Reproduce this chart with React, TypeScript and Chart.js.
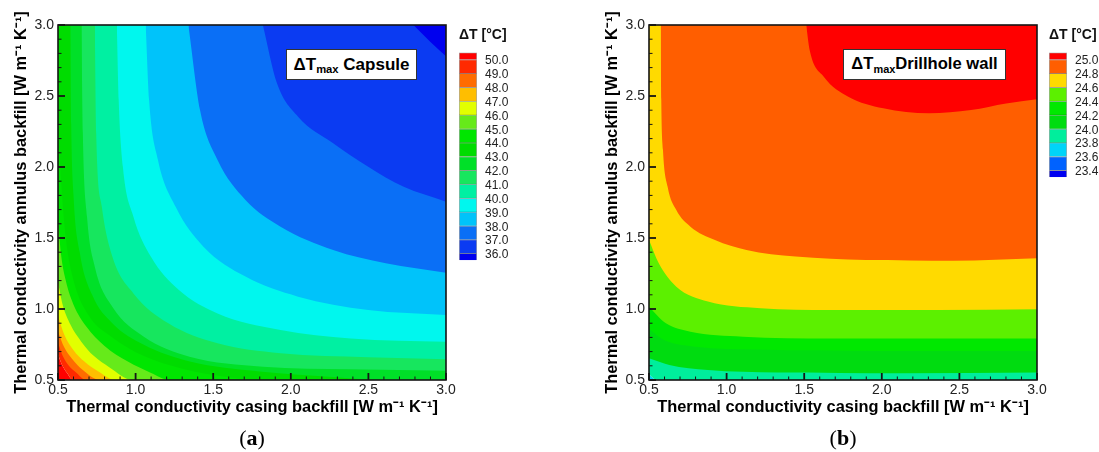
import React, { useEffect, useRef } from 'react';
import { Chart, registerables } from 'chart.js';

Chart.register(...registerables);

type Pt = [number, number];
type Isoline = { level: number; points: Pt[] };

const FONT = "'Liberation Sans', Arial, Helvetica, sans-serif";
Chart.defaults.font.family = FONT;

// ---------- shared axes ----------
const AXIS_MIN = 0.5;
const AXIS_MAX = 3.0;
const AXIS_TICKS = [0.5, 1.0, 1.5, 2.0, 2.5, 3.0];
const MINOR_STEP = 0.1;
const X_TITLE = 'Thermal conductivity casing backfill [W m⁻¹ K⁻¹]';
const Y_TITLE = 'Thermal conductivity annulus backfill [W m⁻¹ K⁻¹]';
const LEGEND_TITLE = 'ΔT [°C]';

// ---------- panel (a): ΔTmax capsule ----------
const CAPSULE_LEVELS = [36, 37, 38, 39, 40, 41, 42, 43, 44, 45, 46, 47, 48, 49, 50];
// band colours, lowest band (<36) first, highest (>50) last
const CAPSULE_COLORS = [
  '#0000EE', '#0B3BF2', '#0A6FF6', '#00C3FA', '#00F7EE', '#00F0A2', '#17E65E', '#00E028',
  '#00DC00', '#00E600', '#66EA1A', '#E2FF00', '#FFBE00', '#FF6C00', '#FF2A00', '#FF0000',
];
const capsuleIso36: Pt[] = [[2.79, 3.0], [2.9, 2.88], [3.0, 2.78]];
const capsuleIso37: Pt[] = [[1.82, 3.0], [1.911, 2.589], [2.047, 2.354], [2.273, 2.167], [2.499, 2.002], [2.724, 1.862], [3.0, 1.756]];
const capsuleIso38: Pt[] = [[1.34, 3.0], [1.415, 2.401], [1.528, 2.049], [1.708, 1.768], [1.934, 1.58], [2.273, 1.416], [2.612, 1.322], [3.0, 1.256]];
const capsuleIso39: Pt[] = [[1.065, 3.0], [1.087, 2.471], [1.144, 2.049], [1.257, 1.721], [1.437, 1.439], [1.708, 1.228], [2.047, 1.087], [2.499, 0.993], [3.0, 0.958]];
const capsuleIso40: Pt[] = [[0.879, 3.0], [0.891, 2.471], [0.918, 2.002], [0.986, 1.65], [1.098, 1.369], [1.279, 1.134], [1.528, 0.969], [1.934, 0.852], [2.386, 0.793], [3.0, 0.77]];
const capsuleIso41: Pt[] = [[0.737, 3.0], [0.746, 2.237], [0.782, 1.721], [0.85, 1.369], [0.986, 1.11], [1.211, 0.899], [1.528, 0.758], [1.934, 0.688], [2.499, 0.66], [3.0, 0.646]];
const capsuleIso42: Pt[] = [[0.651, 3.0], [0.66, 2.237], [0.687, 1.65], [0.737, 1.298], [0.85, 1.016], [1.053, 0.805], [1.347, 0.664], [1.821, 0.594], [2.386, 0.575], [3.0, 0.566]];
const capsuleIso43: Pt[] = [[0.579, 3.0], [0.585, 2.3], [0.6, 1.8], [0.64, 1.4], [0.72, 1.1], [0.85, 0.9], [1.05, 0.75], [1.35, 0.63], [1.8, 0.56], [2.3, 0.52], [2.6, 0.5]];
const capsuleIso44: Pt[] = [[0.5, 2.35], [0.52, 1.9], [0.55, 1.5], [0.6, 1.2], [0.7, 0.95], [0.85, 0.8], [1.05, 0.67], [1.3, 0.58], [1.6, 0.52], [1.8, 0.5]];
const capsuleIso45: Pt[] = [[0.5, 1.63], [0.52, 1.38], [0.55, 1.2], [0.6, 1.03], [0.68, 0.88], [0.8, 0.74], [0.95, 0.63], [1.1, 0.55], [1.22, 0.5]];
const capsuleIso46: Pt[] = [[0.5, 1.19], [0.53, 1.03], [0.58, 0.89], [0.65, 0.77], [0.73, 0.67], [0.83, 0.59], [0.98, 0.5]];
const capsuleIso47: Pt[] = [[0.5, 0.95], [0.54, 0.82], [0.6, 0.71], [0.67, 0.63], [0.76, 0.56], [0.87, 0.5]];
const capsuleIso48: Pt[] = [[0.5, 0.84], [0.54, 0.73], [0.59, 0.65], [0.66, 0.57], [0.77, 0.5]];
const capsuleIso49: Pt[] = [[0.5, 0.76], [0.53, 0.67], [0.57, 0.6], [0.62, 0.55], [0.68, 0.5]];
const capsuleIso50: Pt[] = [[0.5, 0.68], [0.525, 0.61], [0.555, 0.555], [0.6, 0.5]];
const CAPSULE_ISOLINES: Isoline[] = [
  { level: 36, points: capsuleIso36 }, { level: 37, points: capsuleIso37 }, { level: 38, points: capsuleIso38 },
  { level: 39, points: capsuleIso39 }, { level: 40, points: capsuleIso40 }, { level: 41, points: capsuleIso41 },
  { level: 42, points: capsuleIso42 }, { level: 43, points: capsuleIso43 }, { level: 44, points: capsuleIso44 },
  { level: 45, points: capsuleIso45 }, { level: 46, points: capsuleIso46 }, { level: 47, points: capsuleIso47 },
  { level: 48, points: capsuleIso48 }, { level: 49, points: capsuleIso49 }, { level: 50, points: capsuleIso50 },
];

// ---------- panel (b): ΔTmax drillhole wall ----------
const WALL_LEVELS = [23.4, 23.6, 23.8, 24.0, 24.2, 24.4, 24.6, 24.8, 25.0];
const WALL_COLORS = ['#0000F0', '#0062FF', '#00D4F8', '#00EE9C', '#00DC10', '#00E800', '#5CF000', '#FFDA00', '#FF5E00', '#FF0000'];
const wallIso238: Pt[] = [[0.5, 0.54], [0.52, 0.52], [0.55, 0.5]];
const wallIso240: Pt[] = [[0.5, 0.653], [0.631, 0.606], [0.88, 0.57], [1.332, 0.552], [2.123, 0.547], [3.0, 0.552]];
const wallIso242: Pt[] = [[0.5, 0.86], [0.6, 0.78], [0.8, 0.735], [1.2, 0.715], [2.0, 0.705], [3.0, 0.705]];
const wallIso244: Pt[] = [[0.5, 1.016], [0.609, 0.899], [0.767, 0.84], [1.106, 0.805], [1.671, 0.793], [3.0, 0.793]];
const wallIso246: Pt[] = [[0.5, 1.486], [0.563, 1.322], [0.676, 1.157], [0.88, 1.052], [1.219, 1.005], [1.671, 0.993], [2.349, 0.993], [3.0, 0.998]];
const wallIso248: Pt[] = [[0.575, 3.0], [0.579, 2.471], [0.59, 2.12], [0.62, 1.861], [0.676, 1.697], [0.767, 1.58], [0.925, 1.486], [1.128, 1.416], [1.445, 1.369], [1.897, 1.345], [2.462, 1.34], [3.0, 1.357]];
const wallIso250: Pt[] = [[1.513, 3.0], [1.535, 2.824], [1.626, 2.636], [1.784, 2.495], [2.01, 2.413], [2.304, 2.378], [2.575, 2.401], [2.801, 2.448], [3.0, 2.477]];
const WALL_ISOLINES: Isoline[] = [
  { level: 23.8, points: wallIso238 }, { level: 24.0, points: wallIso240 }, { level: 24.2, points: wallIso242 },
  { level: 24.4, points: wallIso244 }, { level: 24.6, points: wallIso246 }, { level: 24.8, points: wallIso248 },
  { level: 25.0, points: wallIso250 },
];

// ---------- layout ----------
const H = 452;
const MAIN_W = 458;

function buildContourDatasets(isolines: Isoline[], levels: number[], colors: string[], highAtTop: boolean) {
  const idx = (lv: number) => levels.findIndex((l) => Math.abs(l - lv) < 1e-9);
  const sorted = [...isolines].sort((a, b) => (highAtTop ? a.level - b.level : b.level - a.level));
  const toData = (pts: Pt[]) => {
    const d = pts.map(([x, y]) => ({ x, y }));
    const last = pts[pts.length - 1];
    if (last[1] <= AXIS_MIN && last[0] < AXIS_MAX) d.push({ x: AXIS_MAX, y: AXIS_MIN });
    return d;
  };
  const endColor = (lv: number) => colors[highAtTop ? idx(lv) + 1 : idx(lv)];
  const startColor = (lv: number) => colors[highAtTop ? idx(lv) : idx(lv) + 1];
  const layers: any[] = [
    { label: 'base', data: toData(sorted[0].points), fill: 'start', backgroundColor: startColor(sorted[0].level) },
    ...sorted.map((iso) => ({ label: String(iso.level), data: toData(iso.points), fill: 'end', backgroundColor: endColor(iso.level) })),
  ];
  return layers.map((l, i) => ({
    ...l,
    order: layers.length - i,
    borderColor: 'rgba(0,0,0,0)',
    borderWidth: 0,
    pointRadius: 0,
    pointHoverRadius: 0,
    cubicInterpolationMode: 'monotone',
  }));
}

const frameTicksPlugin = {
  id: 'frameTicks',
  afterDatasetsDraw(chart: any) {
    const { ctx, chartArea: a } = chart;
    const xs = chart.scales.x;
    const ys = chart.scales.y;
    ctx.save();
    ctx.strokeStyle = '#151515';
    const n = Math.round((AXIS_MAX - AXIS_MIN) / MINOR_STEP);
    for (let i = 0; i <= n; i++) {
      const v = AXIS_MIN + i * MINOR_STEP;
      const major = i % 5 === 0;
      const len = major ? 7 : 3.5;
      ctx.lineWidth = major ? 1.8 : 1;
      const px = xs.getPixelForValue(v);
      ctx.beginPath();
      ctx.moveTo(px, a.bottom);
      ctx.lineTo(px, a.bottom - len);
      ctx.stroke();
      const py = ys.getPixelForValue(v);
      ctx.beginPath();
      ctx.moveTo(a.left, py);
      ctx.lineTo(a.left + len, py);
      ctx.stroke();
    }
    ctx.lineWidth = 1.6;
    ctx.strokeRect(a.left, a.top, a.right - a.left, a.bottom - a.top);
    ctx.restore();
  },
};

function ContourChart(props: { left: number; isolines: Isoline[]; levels: number[]; colors: string[]; highAtTop: boolean }) {
  const ref = useRef<HTMLCanvasElement>(null);
  useEffect(() => {
    const canvas = ref.current;
    if (!canvas) return;
    const tickFmt = (v: any) => Number(v).toFixed(1);
    const setTicks = (s: any) => {
      s.ticks = AXIS_TICKS.map((v) => ({ value: v }));
    };
    const chart = new Chart(canvas, {
      type: 'line',
      data: { datasets: buildContourDatasets(props.isolines, props.levels, props.colors, props.highAtTop) },
      options: {
        responsive: false,
        animation: false,
        events: [],
        layout: { padding: { left: 0, top: 25, right: 12, bottom: 0 } },
        plugins: { legend: { display: false }, tooltip: { enabled: false }, title: { display: false } },
        scales: {
          x: {
            type: 'linear',
            min: AXIS_MIN,
            max: AXIS_MAX,
            afterBuildTicks: setTicks,
            afterFit: (s: any) => {
              s.height = 72;
            },
            grid: { display: false, drawTicks: false },
            border: { display: false },
            ticks: { padding: 2, color: '#222', font: { size: 14 }, maxRotation: 0, autoSkip: false, callback: tickFmt },
            title: { display: true, text: X_TITLE, color: '#000', font: { size: 16.4, weight: 'bold' }, padding: { top: 0, bottom: 35 } },
          },
          y: {
            type: 'linear',
            min: AXIS_MIN,
            max: AXIS_MAX,
            afterBuildTicks: setTicks,
            afterFit: (s: any) => {
              s.width = 58;
            },
            grid: { display: false, drawTicks: false },
            border: { display: false },
            ticks: { padding: 4, color: '#222', font: { size: 14 }, autoSkip: false, callback: tickFmt },
            title: { display: true, text: Y_TITLE, color: '#000', font: { size: 16.4, weight: 'bold' }, padding: { top: 12, bottom: 0 } },
          },
        },
      } as any,
      plugins: [frameTicksPlugin],
    });
    return () => chart.destroy();
  }, []);
  return (
    <canvas
      ref={ref}
      width={MAIN_W}
      height={H}
      style={{ position: 'absolute', left: props.left, top: 0, width: MAIN_W, height: H, display: 'block' }}
    />
  );
}

function ColorBar(props: { left: number; width: number; axisWidth: number; rightPad: number; levels: number[]; colors: string[] }) {
  const ref = useRef<HTMLCanvasElement>(null);
  useEffect(() => {
    const canvas = ref.current;
    if (!canvas) return;
    const { levels, colors } = props;
    const step = levels[1] - levels[0];
    const lo = levels[0] - step / 2;
    const hi = levels[levels.length - 1] + step / 2;
    const pxPerStep = 13.85;
    const barBottom = 52.6 + pxPerStep * levels.length;
    const datasets = colors.map((c, k) => ({
      label: String(k),
      data: [[k === 0 ? lo : levels[k - 1], k === levels.length ? hi : levels[k]]],
      backgroundColor: c,
      borderColor: 'rgba(0,0,0,0.35)',
      borderWidth: 1,
      grouped: false,
      barPercentage: 1,
      categoryPercentage: 1,
    }));
    const chart = new Chart(canvas, {
      type: 'bar',
      data: { labels: [''], datasets },
      options: {
        responsive: false,
        animation: false,
        events: [],
        layout: { padding: { left: 19, right: props.rightPad, top: 0, bottom: H - barBottom } },
        plugins: {
          legend: { display: false },
          tooltip: { enabled: false },
          title: {
            display: true,
            text: LEGEND_TITLE,
            align: 'start',
            color: '#111',
            font: { size: 14, weight: 'bold' },
            padding: { top: 26.6, bottom: 9.2 },
          },
        },
        scales: {
          x: { type: 'category', display: false },
          y: {
            type: 'linear',
            position: 'right',
            min: lo,
            max: hi,
            afterBuildTicks: (s: any) => {
              s.ticks = levels.map((v) => ({ value: v }));
            },
            afterFit: (s: any) => {
              s.width = props.axisWidth;
            },
            grid: { display: false, drawTicks: false },
            border: { display: false },
            ticks: { padding: 8, labelOffset: 1.5, color: '#222', font: { size: 12 }, autoSkip: false, callback: (v: any) => Number(v).toFixed(1) },
          },
        },
      } as any,
    });
    return () => chart.destroy();
  }, []);
  return (
    <canvas
      ref={ref}
      width={props.width}
      height={H}
      style={{ position: 'absolute', left: props.left, top: 0, width: props.width, height: H, display: 'block' }}
    />
  );
}

function LabelBox(props: { left: number; width: number; size: number; gap: boolean; name: string }) {
  return (
    <div
      style={{
        position: 'absolute',
        left: props.left,
        top: 49,
        width: props.width,
        height: 31,
        boxSizing: 'border-box',
        border: '1px solid #333',
        background: '#fff',
        display: 'flex',
        alignItems: 'center',
        justifyContent: 'center',
        fontFamily: FONT,
        fontWeight: 'bold',
        fontSize: props.size,
        color: '#000',
        whiteSpace: 'nowrap',
        lineHeight: 1,
      }}
    >
      <span>ΔT</span>
      <span style={{ fontSize: props.size * 0.66, position: 'relative', top: 5 }}>max</span>
      <span>{props.gap ? '\u00a0' : ''}{props.name}</span>
    </div>
  );
}

function Caption(props: { center: number; letter: string }) {
  return (
    <div
      style={{
        position: 'absolute',
        left: props.center - 40,
        width: 80,
        top: 424,
        height: 28,
        lineHeight: '28px',
        textAlign: 'center',
        fontFamily: "'Liberation Serif', 'Times New Roman', serif",
        fontSize: 22,
        color: '#000',
      }}
    >
      (<b>{props.letter}</b>)
    </div>
  );
}

export default function App() {
  return (
    <div style={{ position: 'relative', width: 1099, height: H, overflow: 'hidden', background: '#fff' }}>
      <style>{'html,body{margin:0;padding:0;background:#fff;}'}</style>
      <ContourChart left={0} isolines={CAPSULE_ISOLINES} levels={CAPSULE_LEVELS} colors={CAPSULE_COLORS} highAtTop={false} />
      <ColorBar left={440} width={109} axisWidth={60} rightPad={12} levels={CAPSULE_LEVELS} colors={CAPSULE_COLORS} />
      <ContourChart left={591} isolines={WALL_ISOLINES} levels={WALL_LEVELS} colors={WALL_COLORS} highAtTop={true} />
      <ColorBar left={1030} width={69} axisWidth={32} rightPad={0} levels={WALL_LEVELS} colors={WALL_COLORS} />
      <LabelBox left={286} width={131} size={17} gap={true} name="Capsule" />
      <LabelBox left={843} width={163} size={16.6} gap={false} name="Drillhole wall" />
      <Caption center={252} letter="a" />
      <Caption center={843} letter="b" />
    </div>
  );
}
